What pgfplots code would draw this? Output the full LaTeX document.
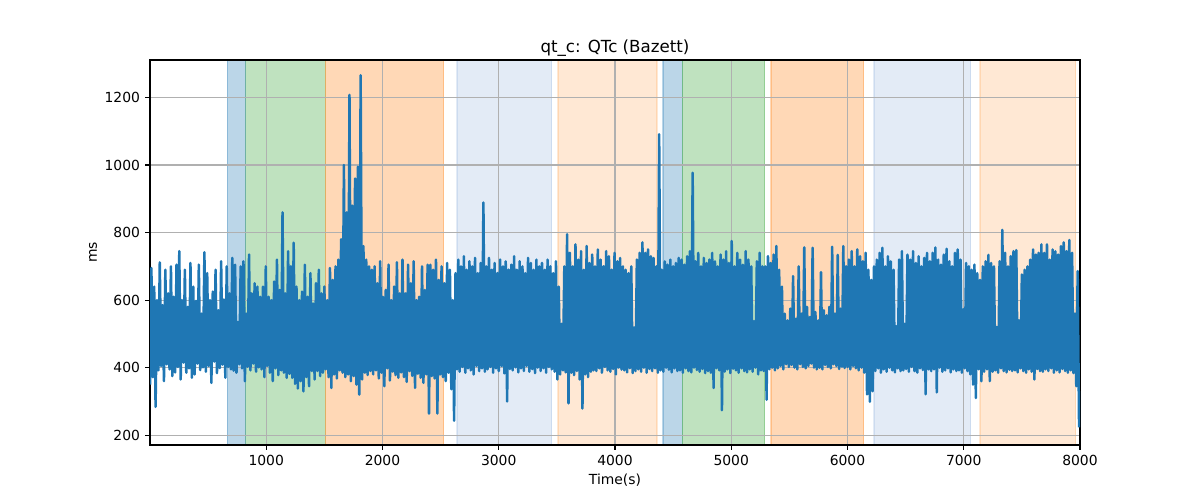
\documentclass[border=0pt]{standalone}
\usepackage{pgfplots}
\pgfplotsset{compat=1.18}
\usepackage{fontspec}
\setmainfont{DejaVu Sans}
\definecolor{tabblue}{HTML}{1F77B4}
\definecolor{tabgreen}{HTML}{2CA02C}
\definecolor{taborange}{HTML}{FF7F0E}
\definecolor{lband}{RGB}{115,155,210}
\definecolor{loband}{RGB}{255,140,40}
\definecolor{gridgray}{HTML}{B0B0B0}
\begin{document}
\begin{tikzpicture}
\path (-108pt,-39.6pt) rectangle (756pt,320.4pt);
\begin{axis}[
  set layers,
  at={(0,0)}, anchor=south west,
  scale only axis, width=669.6pt, height=277.2pt,
  xmin=0, xmax=8000, ymin=171, ymax=1311,
  xtick={1000,2000,3000,4000,5000,6000,7000,8000},
  ytick={200,400,600,800,1000,1200},
  tick align=outside, major tick length=3.5pt,
  xtick pos=bottom, ytick pos=left,
  every tick/.style={black, line width=0.8pt},
  axis line style={line width=0.8pt},
  grid=major, major grid style={gridgray, line width=0.8pt},
  /pgf/number format/assume math mode=true,
  /pgf/number format/1000 sep={},
  tick label style={font=\fontsize{10}{12}\selectfont},
  xticklabel style={inner sep=0pt, anchor=north},
  yticklabel style={inner sep=0pt, anchor=east},
  xticklabel shift=3.5pt, yticklabel shift=3.5pt,
  title={qt\_c: QTc (Bazett)},
  title style={font=\fontsize{12}{14}\selectfont, at={(axis description cs:0.5,1)}, anchor=south, inner sep=0pt, yshift=-3.4pt},
  xlabel={Time(s)},
  xlabel style={font=\fontsize{10}{12}\selectfont, at={(axis description cs:0.5,0)}, anchor=north, inner sep=0pt, yshift=-20.4pt},
  ylabel={ms},
  ylabel style={font=\fontsize{10}{12}\selectfont, at={(axis description cs:-0.0566,0.5)}, anchor=south, inner sep=0pt},
  clip=true,
]
% shaded spans (below the grid)
\addplot[on layer=axis background, fill=tabblue, fill opacity=0.3, draw=tabblue, draw opacity=0.3, line width=0.8pt] coordinates {(665,171)(665,1311)(823,1311)(823,171)};
\addplot[on layer=axis background, fill=tabgreen, fill opacity=0.3, draw=tabgreen, draw opacity=0.3, line width=0.8pt] coordinates {(823,171)(823,1311)(1508,1311)(1508,171)};
\addplot[on layer=axis background, fill=taborange, fill opacity=0.3, draw=taborange, draw opacity=0.3, line width=0.8pt] coordinates {(1508,171)(1508,1311)(2526,1311)(2526,171)};
\addplot[on layer=axis background, fill=lband, fill opacity=0.2, draw=lband, draw opacity=0.2, line width=0.8pt] coordinates {(2641,171)(2641,1311)(3455,1311)(3455,171)};
\addplot[on layer=axis background, fill=loband, fill opacity=0.2, draw=loband, draw opacity=0.2, line width=0.8pt] coordinates {(3510,171)(3510,1311)(4361,1311)(4361,171)};
\addplot[on layer=axis background, fill=tabblue, fill opacity=0.3, draw=tabblue, draw opacity=0.3, line width=0.8pt] coordinates {(4413,171)(4413,1311)(4579,1311)(4579,171)};
\addplot[on layer=axis background, fill=tabgreen, fill opacity=0.3, draw=tabgreen, draw opacity=0.3, line width=0.8pt] coordinates {(4579,171)(4579,1311)(5287,1311)(5287,171)};
\addplot[on layer=axis background, fill=taborange, fill opacity=0.3, draw=taborange, draw opacity=0.3, line width=0.8pt] coordinates {(5342,171)(5342,1311)(6139,1311)(6139,171)};
\addplot[on layer=axis background, fill=lband, fill opacity=0.2, draw=lband, draw opacity=0.2, line width=0.8pt] coordinates {(6228,171)(6228,1311)(7060,1311)(7060,171)};
\addplot[on layer=axis background, fill=loband, fill opacity=0.2, draw=loband, draw opacity=0.2, line width=0.8pt] coordinates {(7140,171)(7140,1311)(7963,1311)(7963,171)};
% QTc series
\addplot[tabblue, line width=1.8pt, line join=round, mark=none] coordinates {
(0,350)(12,695)(24,372)(36,640)(48,284)(60,600)(72,392)(84,712)(96,405)(108,585)(120,360)(132,690)(144,410)(156,620)(168,395)(180,700)(192,375)(204,610)(216,386)(228,705)
(240,402)(252,745)(264,365)(276,600)(288,415)(300,690)(312,385)(324,580)(336,398)(348,710)(360,370)(372,640)(384,380)(396,598)(408,412)(420,705)(432,393)(444,560)(456,401)(468,742)
(480,388)(492,680)(504,405)(516,600)(528,355)(540,625)(552,418)(564,690)(576,384)(588,570)(600,399)(612,715)(624,409)(636,602)(648,370)(660,700)(672,402)(684,620)(696,395)(708,725)
(720,391)(732,705)(744,385)(756,535)(768,410)(780,700)(792,398)(804,715)(816,360)(828,560)(840,403)(852,735)(864,392)(876,620)(888,412)(900,650)(912,388)(924,640)(936,401)(948,610)
(960,395)(972,640)(984,372)(996,700)(1008,405)(1020,610)(1032,385)(1044,600)(1056,360)(1068,655)(1080,398)(1092,720)(1104,378)(1116,630)(1128,392)(1140,860)(1152,385)(1164,620)(1176,370)(1188,745)
(1200,382)(1212,700)(1224,370)(1236,770)(1248,352)(1260,640)(1272,338)(1284,600)(1296,360)(1308,625)(1320,330)(1332,705)(1344,372)(1356,610)(1368,345)(1380,680)(1392,390)(1404,590)(1416,365)(1428,650)
(1440,390)(1452,690)(1464,375)(1476,620)(1488,385)(1500,640)(1512,395)(1524,600)(1536,372)(1548,695)(1560,340)(1572,660)(1584,380)(1596,700)(1608,368)(1620,720)(1632,392)(1644,780)(1656,385)(1668,1000)
(1680,372)(1692,860)(1704,380)(1716,1208)(1728,360)(1740,880)(1752,375)(1764,960)(1776,350)(1788,995)(1800,320)(1812,1266)(1824,365)(1836,760)(1848,385)(1860,720)(1872,378)(1884,700)(1896,390)(1908,690)
(1920,380)(1932,700)(1944,392)(1956,650)(1968,368)(1980,715)(1992,385)(2004,610)(2016,345)(2028,630)(2040,398)(2052,705)(2064,362)(2076,600)(2088,388)(2100,640)(2112,378)(2124,712)(2136,370)(2148,620)
(2160,386)(2172,720)(2184,372)(2196,620)(2208,358)(2220,705)(2232,390)(2244,650)(2256,376)(2268,715)(2280,340)(2292,600)(2304,382)(2316,610)(2328,370)(2340,700)(2352,355)(2364,630)(2376,380)(2388,705)
(2400,264)(2412,705)(2424,375)(2436,690)(2448,368)(2460,720)(2472,264)(2484,660)(2496,380)(2508,700)(2520,372)(2532,650)(2544,360)(2556,710)(2568,385)(2580,690)(2592,336)(2604,600)(2616,243)(2628,680)
(2640,395)(2652,720)(2664,388)(2676,700)(2688,402)(2700,730)(2712,385)(2724,690)(2736,398)(2748,715)(2760,392)(2772,700)(2784,380)(2796,725)(2808,405)(2820,680)(2832,390)(2844,710)(2856,398)(2868,889)
(2880,388)(2892,700)(2904,395)(2916,725)(2928,402)(2940,690)(2952,385)(2964,710)(2976,398)(2988,680)(3000,390)(3012,720)(3024,405)(3036,700)(3048,383)(3060,715)(3072,300)(3084,690)(3096,396)(3108,705)
(3120,392)(3132,730)(3144,401)(3156,690)(3168,386)(3180,715)(3192,398)(3204,700)(3216,390)(3228,680)(3240,405)(3252,725)(3264,388)(3276,710)(3288,396)(3300,690)(3312,384)(3324,720)(3336,400)(3348,700)
(3360,390)(3372,710)(3384,398)(3396,690)(3408,385)(3420,720)(3432,402)(3444,700)(3456,395)(3468,680)(3480,388)(3492,715)(3504,365)(3516,640)(3528,380)(3540,530)(3552,392)(3564,700)(3576,386)(3588,795)
(3600,294)(3612,740)(3624,385)(3636,700)(3648,378)(3660,765)(3672,390)(3684,720)(3696,365)(3708,745)(3720,279)(3732,690)(3744,380)(3756,760)(3768,372)(3780,710)(3792,388)(3804,735)(3816,392)(3828,700)
(3840,390)(3852,750)(3864,398)(3876,720)(3888,385)(3900,700)(3912,402)(3924,745)(3936,392)(3948,730)(3960,388)(3972,690)(3984,396)(3996,740)(4008,380)(4020,715)(4032,400)(4044,725)(4056,394)(4068,700)
(4080,392)(4092,690)(4104,386)(4116,680)(4128,398)(4140,700)(4152,384)(4164,519)(4176,390)(4188,720)(4200,395)(4212,740)(4224,388)(4236,771)(4248,400)(4260,740)(4272,385)(4284,750)(4296,396)(4308,730)
(4320,390)(4332,725)(4344,398)(4356,700)(4368,385)(4380,1091)(4392,392)(4404,690)(4416,388)(4428,715)(4440,400)(4452,705)(4464,394)(4476,720)(4488,386)(4500,700)(4512,398)(4524,710)(4536,390)(4548,725)
(4560,392)(4572,720)(4584,385)(4596,705)(4608,398)(4620,730)(4632,390)(4644,745)(4656,386)(4668,977)(4680,400)(4692,715)(4704,393)(4716,740)(4728,388)(4740,700)(4752,396)(4764,725)(4776,384)(4788,710)
(4800,390)(4812,720)(4824,385)(4836,740)(4848,340)(4860,715)(4872,398)(4884,700)(4896,392)(4908,735)(4920,274)(4932,720)(4944,388)(4956,745)(4968,395)(4980,710)(4992,384)(5004,775)(5016,397)(5028,700)
(5040,392)(5052,740)(5064,385)(5076,720)(5088,398)(5100,705)(5112,390)(5124,745)(5136,386)(5148,720)(5160,395)(5172,700)(5184,388)(5196,538)(5208,400)(5220,715)(5232,380)(5244,740)(5256,392)(5268,700)
(5280,390)(5292,700)(5304,305)(5316,730)(5328,395)(5340,710)(5352,400)(5364,735)(5376,392)(5388,760)(5400,398)(5412,690)(5424,405)(5436,640)(5448,395)(5460,560)(5472,410)(5484,540)(5496,402)(5508,575)
(5520,408)(5532,671)(5544,400)(5556,545)(5568,395)(5580,700)(5592,410)(5604,560)(5616,402)(5628,756)(5640,398)(5652,580)(5664,405)(5676,550)(5688,412)(5700,755)(5712,400)(5724,565)(5736,395)(5748,540)
(5760,400)(5772,683)(5784,395)(5796,570)(5808,408)(5820,555)(5832,402)(5844,580)(5856,398)(5868,758)(5880,410)(5892,560)(5904,405)(5916,734)(5928,396)(5940,575)(5952,403)(5964,760)(5976,399)(5988,700)
(6000,402)(6012,720)(6024,395)(6036,745)(6048,405)(6060,700)(6072,398)(6084,750)(6096,392)(6108,730)(6120,400)(6132,715)(6144,385)(6156,740)(6168,321)(6180,690)(6192,299)(6204,660)(6216,330)(6228,700)
(6240,390)(6252,720)(6264,398)(6276,740)(6288,385)(6300,755)(6312,395)(6324,700)(6336,388)(6348,730)(6360,400)(6372,715)(6384,392)(6396,690)(6408,386)(6420,523)(6432,398)(6444,720)(6456,390)(6468,745)
(6480,392)(6492,530)(6504,396)(6516,735)(6528,388)(6540,720)(6552,402)(6564,745)(6576,390)(6588,710)(6600,385)(6612,730)(6624,398)(6636,700)(6648,393)(6660,725)(6672,321)(6684,740)(6696,395)(6708,715)
(6720,390)(6732,740)(6744,395)(6756,756)(6768,327)(6780,720)(6792,400)(6804,705)(6816,388)(6828,735)(6840,392)(6852,752)(6864,398)(6876,715)(6888,386)(6900,700)(6912,395)(6924,740)(6936,390)(6948,750)
(6960,392)(6972,720)(6984,385)(6996,573)(7008,398)(7020,710)(7032,390)(7044,700)(7056,380)(7068,690)(7080,350)(7092,705)(7104,310)(7116,680)(7128,395)(7140,660)(7152,360)(7164,700)(7176,388)(7188,715)
(7200,395)(7212,734)(7224,360)(7236,710)(7248,388)(7260,700)(7272,392)(7284,520)(7296,385)(7308,715)(7320,398)(7332,808)(7344,390)(7356,740)(7368,386)(7380,700)(7392,394)(7404,730)(7416,390)(7428,745)
(7440,392)(7452,748)(7464,386)(7476,540)(7488,398)(7500,676)(7512,390)(7524,690)(7536,385)(7548,700)(7560,395)(7572,720)(7584,388)(7596,750)(7608,365)(7620,735)(7632,396)(7644,740)(7656,390)(7668,765)
(7680,388)(7692,740)(7704,395)(7716,765)(7728,390)(7740,720)(7752,398)(7764,750)(7776,385)(7788,745)(7800,392)(7812,735)(7824,386)(7836,760)(7848,396)(7860,771)(7872,390)(7884,745)(7896,385)(7908,778)
(7920,392)(7932,740)(7944,384)(7956,560)(7968,345)(7980,686)(7992,223)
};
\end{axis}
\end{tikzpicture}
\end{document}
